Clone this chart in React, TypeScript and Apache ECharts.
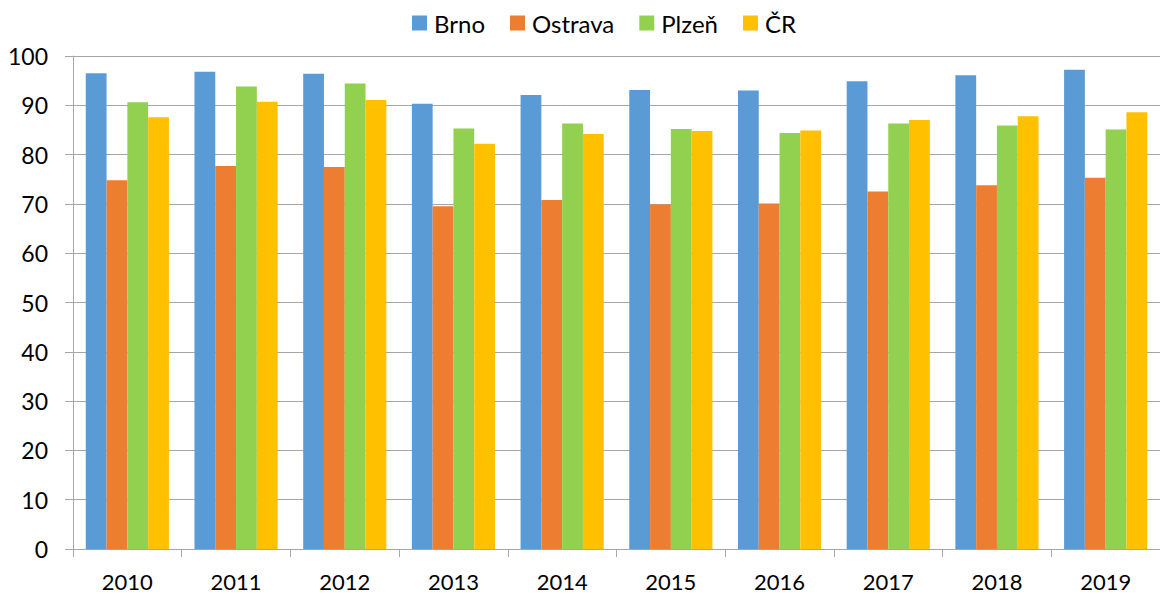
import React, { useEffect, useRef } from "react";
import * as echarts from "echarts";

const categories = ["2010", "2011", "2012", "2013", "2014", "2015", "2016", "2017", "2018", "2019"];
const brno = [96.5, 96.8, 96.4, 90.3, 92.1, 93.1, 93.0, 94.9, 96.1, 97.2];
const ostrava = [74.8, 77.7, 77.5, 69.5, 70.8, 69.9, 70.1, 72.5, 73.8, 75.3];
const plzen = [90.6, 93.8, 94.4, 85.3, 86.3, 85.2, 84.4, 86.3, 85.9, 85.1];
const cr = [87.6, 90.7, 91.1, 82.2, 84.2, 84.8, 84.9, 87.0, 87.8, 88.6];
const seriesNames = ["Brno", "Ostrava", "Plzeň", "ČR"];
const colors = ["#5B9BD5", "#ED7D31", "#92D050", "#FFC000"];

const FONT = "Lato, 'Open Sans', 'Liberation Sans', sans-serif";

export default function App() {
  const ref = useRef<HTMLDivElement>(null);
  useEffect(() => {
    if (!ref.current) return;
    const chart = echarts.init(ref.current, null, { renderer: "svg" });
    const data = [brno, ostrava, plzen, cr];
    chart.setOption({
      animation: false,
      backgroundColor: "#ffffff",
      textStyle: { fontFamily: FONT },
      legend: {
        left: 407,
        top: 6,
        itemWidth: 15,
        itemHeight: 15,
        itemGap: 25,
        icon: "rect",
        textStyle: { fontFamily: FONT, fontSize: 24, color: "#000000", lineHeight: 22, padding: [0, 0, 0, 2] },
        data: seriesNames,
      },
      grid: { left: 73, top: 56, width: 1099, height: 493, containLabel: false },
      xAxis: {
        type: "category",
        data: categories,
        boundaryGap: true,
        axisLine: { show: true, lineStyle: { color: "#a6a6a6", width: 1 } },
        axisTick: { show: true, alignWithLabel: false, length: 8, lineStyle: { color: "#a6a6a6" } },
        axisLabel: { fontFamily: FONT, fontSize: 22, lineHeight: 19, color: "#000000", margin: 23 },
        splitLine: { show: false },
      },
      yAxis: {
        type: "value",
        min: 0,
        max: 100,
        interval: 10,
        axisLine: { show: true, lineStyle: { color: "#a6a6a6", width: 1 } },
        axisTick: { show: true, length: 8, lineStyle: { color: "#a6a6a6" } },
        axisLabel: { fontFamily: FONT, fontSize: 23, color: "#000000", margin: 25 },
        splitLine: { show: true, lineStyle: { color: "#a6a6a6", width: 1.2 } },
      },
      series: seriesNames.map((name, i) => ({
        name,
        type: "bar",
        data: data[i],
        barGap: "0%",
        barCategoryGap: "23.5%",
        itemStyle: { color: colors[i] },
      })),
    });
    return () => chart.dispose();
  }, []);
  return (
    <div
      ref={ref}
      style={{ position: "fixed", left: 0, top: 0, width: 1160, height: 594, background: "#fff" }}
    />
  );
}
